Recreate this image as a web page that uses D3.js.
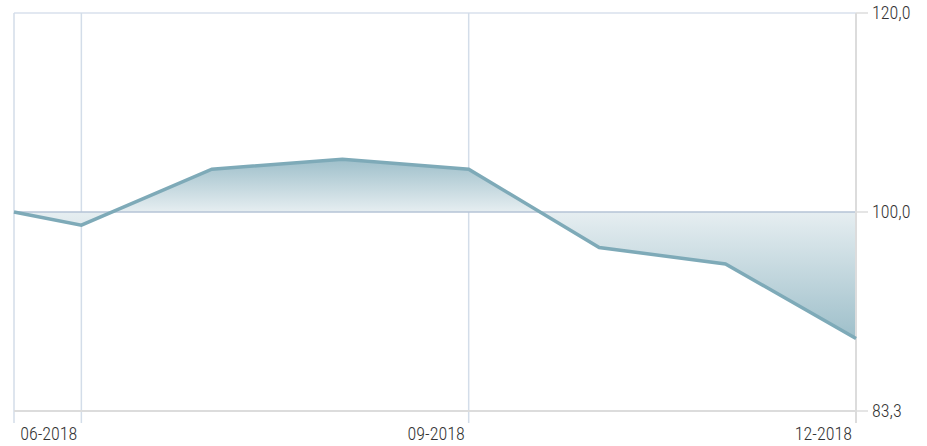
<!DOCTYPE html>
<html>
<head>
<meta charset="utf-8">
<script src="https://cdn.jsdelivr.net/npm/d3@7"></script>
<style>
  body { margin: 0; background: #fff; }
  svg text { font-family: "Liberation Sans Narrow", "Roboto", sans-serif; font-stretch: condensed; font-weight: 300; font-size: 18px; fill: #333; }
</style>
</head>
<body>
<svg width="927" height="446"></svg>
<script>
// monthly closing values, index base 100
var dates = ["2018-06-14", "2018-06-30", "2018-07-31", "2018-08-31", "2018-09-30", "2018-10-31", "2018-11-30", "2018-12-31"];
var values = [100.0, 98.8, 104.0, 104.95, 104.0, 96.8, 95.35, 89.05];
var xTickDates = ["2018-06-30", "2018-09-30", "2018-12-31"];
var yTicks = [100 / 1.2, 100, 120];
var baseline = 100;

var parse = d3.timeParse("%Y-%m-%d");
var data = dates.map(function (d, i) {
    return {date: parse(d), value: values[i]};
});

var margin = {top: 13, right: 71, bottom: 35, left: 14};
var svg = d3.select("svg"),
    width = +svg.attr("width") - margin.left - margin.right,
    height = +svg.attr("height") - margin.top - margin.bottom;

var g = svg.append("g").attr("transform", "translate(" + margin.left + "," + margin.top + ")");

var x = d3.scaleTime()
    .domain(d3.extent(data, function (d) { return d.date; }))
    .range([0, width]);

// log scale: 120 and 83.3 are both a factor 1.2 away from 100
var y = d3.scaleLog()
    .domain([100 / 1.2, 120])
    .range([height, 0]);

var defs = svg.append("defs");

var gradUp = defs.append("linearGradient")
    .attr("id", "gradUp")
    .attr("gradientUnits", "userSpaceOnUse")
    .attr("x1", 0).attr("x2", 0)
    .attr("y1", y(d3.max(values))).attr("y2", y(baseline));
gradUp.append("stop").attr("offset", "0%").attr("stop-color", "#9ebfca");
gradUp.append("stop").attr("offset", "100%").attr("stop-color", "#e6eef1");

var gradDown = defs.append("linearGradient")
    .attr("id", "gradDown")
    .attr("gradientUnits", "userSpaceOnUse")
    .attr("x1", 0).attr("x2", 0)
    .attr("y1", y(baseline)).attr("y2", y(d3.min(values)));
gradDown.append("stop").attr("offset", "0%").attr("stop-color", "#e6eef1");
gradDown.append("stop").attr("offset", "100%").attr("stop-color", "#9ebfca");

defs.append("clipPath").attr("id", "clipUp")
    .append("rect")
    .attr("x", 0).attr("y", 0)
    .attr("width", width).attr("height", y(baseline));
defs.append("clipPath").attr("id", "clipDown")
    .append("rect")
    .attr("x", 0).attr("y", y(baseline))
    .attr("width", width).attr("height", height - y(baseline));

// grid
g.append("line")
    .attr("x1", 0).attr("x2", width)
    .attr("y1", y(120)).attr("y2", y(120))
    .style("stroke", "#d8e1ec").style("stroke-width", 1.5);

g.append("line")
    .attr("x1", 0).attr("x2", 0)
    .attr("y1", 0).attr("y2", height + 12)
    .style("stroke", "#d3dde9").style("stroke-width", 1.5);

g.selectAll(".xgrid")
    .data(xTickDates.slice(0, 2))
    .enter().append("line")
    .attr("class", "xgrid")
    .attr("x1", function (d) { return x(parse(d)); })
    .attr("x2", function (d) { return x(parse(d)); })
    .attr("y1", 0).attr("y2", height + 12)
    .style("stroke", "#d3dde9").style("stroke-width", 1.5);

// areas
var area = d3.area()
    .x(function (d) { return x(d.date); })
    .y0(y(baseline))
    .y1(function (d) { return y(d.value); });

g.append("path").datum(data)
    .attr("d", area)
    .attr("clip-path", "url(#clipUp)")
    .style("fill", "url(#gradUp)");
g.append("path").datum(data)
    .attr("d", area)
    .attr("clip-path", "url(#clipDown)")
    .style("fill", "url(#gradDown)");

// baseline
g.append("line")
    .attr("x1", 0).attr("x2", width)
    .attr("y1", y(baseline)).attr("y2", y(baseline))
    .style("stroke", "#b5c3d6").style("stroke-width", 1.5);

// axes
g.append("line")
    .attr("x1", 0).attr("x2", width)
    .attr("y1", height).attr("y2", height)
    .style("stroke", "#dcdcdc").style("stroke-width", 2);
g.append("line")
    .attr("x1", width).attr("x2", width)
    .attr("y1", 0).attr("y2", height + 12)
    .style("stroke", "#dcdcdc").style("stroke-width", 2);

g.selectAll(".ytick")
    .data(yTicks)
    .enter().append("line")
    .attr("class", "ytick")
    .attr("x1", width).attr("x2", width + 12)
    .attr("y1", function (d) { return y(d); })
    .attr("y2", function (d) { return y(d); })
    .style("stroke", "#dcdcdc").style("stroke-width", 1.5);

g.selectAll(".ylabel")
    .data(yTicks)
    .enter().append("text")
    .attr("class", "ylabel")
    .attr("x", width + 16)
    .attr("y", function (d) { return y(d); })
    .attr("dy", "0.35em")
    .text(function (d) { return d3.format(".1f")(d).replace(".", ","); });

g.selectAll(".xlabel")
    .data(xTickDates)
    .enter().append("text")
    .attr("class", "xlabel")
    .attr("x", function (d) { return x(parse(d)) - 4; })
    .attr("y", height + 29)
    .attr("text-anchor", "end")
    .text(function (d) { return d3.timeFormat("%m-%Y")(parse(d)); });

// line
var line = d3.line()
    .x(function (d) { return x(d.date); })
    .y(function (d) { return y(d.value); });

g.append("path").datum(data)
    .attr("d", line)
    .style("fill", "none")
    .style("stroke", "#7eaab8")
    .style("stroke-width", 3.5);
</script>
</body>
</html>
